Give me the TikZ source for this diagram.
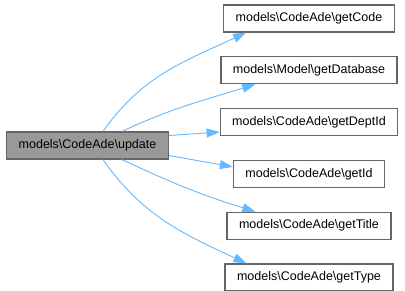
\documentclass[tikz,border=0pt]{standalone}
\usepackage{fontspec}
\setmainfont{Liberation Sans}
\usepackage{tikz}
\usetikzlibrary{arrows.meta,positioning}
\definecolor{dxedge}{RGB}{102,102,102}
\definecolor{dxcur}{RGB}{153,153,153}
\definecolor{dxcall}{RGB}{99,184,255}
\newcommand{\nsep}{\textbackslash}
\tikzset{
  fnbox/.style={
    draw=dxedge, line width=1.2pt, fill=white, text=black,
    inner xsep=12pt, inner ysep=0pt, minimum height=27pt,
    font=\fontsize{12.5}{14}\selectfont
  },
  cur/.style={fnbox, fill=dxcur},
  call/.style={-{Triangle[length=13pt,width=9pt]}, draw=dxcall, line width=0.9pt}
}

\begin{document}
\begin{tikzpicture}[x=1pt, y=1pt, node distance=23.6pt]
  \useasboundingbox (0,0) rectangle (405,291);
  \node[cur] (upd) at (87.5,145.5) {models\nsep CodeAde\nsep update};
  \node[fnbox] (gc) at (309,272.5) {models\nsep CodeAde\nsep getCode};
  \node[fnbox, below=of gc] (gdb) {models\nsep Model\nsep getDatabase};
  \node[fnbox, below=of gdb] (gdi) {models\nsep CodeAde\nsep getDeptId};
  \node[fnbox, below=of gdi] (gid) {models\nsep CodeAde\nsep getId};
  \node[fnbox, below=of gid] (gt) {models\nsep CodeAde\nsep getTitle};
  \node[fnbox, below=of gt] (gty) {models\nsep CodeAde\nsep getType};
  % calls out of update
  \draw[call] ([xshift=15.5pt]upd.north) to[out=55, in=205] ([xshift=23pt]gc.south west);
  \draw[call] ([xshift=34.5pt]upd.north) to[out=25, in=197] ([xshift=35pt]gdb.south west);
  \draw[call] ([yshift=10pt]upd.east) -- ([yshift=-10pt]gdi.west);
  \draw[call] ([yshift=-10pt]upd.east) -- ([yshift=7pt]gid.west);
  \draw[call] ([xshift=34.5pt]upd.south) to[out=-25, in=163] ([xshift=29pt]gt.north west);
  \draw[call] ([xshift=15.5pt]upd.south) to[out=-55, in=155] ([xshift=22pt]gty.north west);
\end{tikzpicture}
\end{document}
